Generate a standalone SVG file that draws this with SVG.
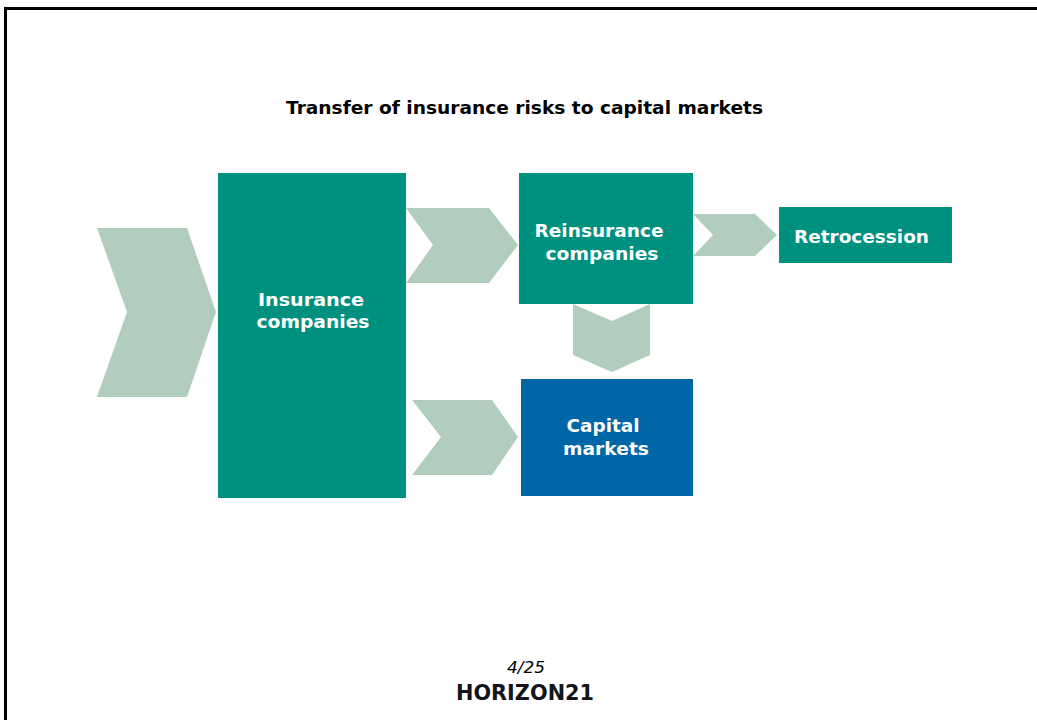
<svg xmlns="http://www.w3.org/2000/svg" width="1037" height="720" viewBox="0 0 1037 720">
<style>
.ch{fill:#b0cdbe}
.t{fill:#009080}
.b{fill:#0066a6}
text{font-family:"DejaVu Sans",Verdana,sans-serif;text-anchor:middle}
.l{fill:#fff;font-size:18px;font-weight:600}
</style>
<rect width="1037" height="720" fill="#fff"/>
<path d="M5.500 720V8.500H1037" fill="none" stroke="#000" stroke-width="3"/>
<text id="title" x="524.500" y="114" font-size="17" font-weight="700" fill="#000" textLength="477" lengthAdjust="spacingAndGlyphs">Transfer of insurance risks to capital markets</text>
<g id="connectors">
<polygon class="ch" points="97,228 187,228 216,312 187,397 97,397 127,312"/>
<polygon class="ch" points="406,208 489,208 518,245 489,283 406,283 433,245"/>
<polygon class="ch" points="412,400 492,400 518,437 492,475 412,475 441,437"/>
<polygon class="ch" points="693,214 755,214 777,235 755,256 693,256 713,235"/>
<polygon class="ch" points="573,304 612,321 650,304 650,355 612,372 573,355"/>
</g>
<g id="insurance"><rect class="t" x="218" y="173" width="188" height="325"/><text class="l" x="311" y="306" textLength="106" lengthAdjust="spacingAndGlyphs">Insurance</text><text class="l" x="313" y="328" textLength="113" lengthAdjust="spacingAndGlyphs">companies</text></g>
<g id="reinsurance"><rect class="t" x="519" y="173" width="174" height="131"/><text class="l" x="599" y="237" textLength="129" lengthAdjust="spacingAndGlyphs">Reinsurance</text><text class="l" x="602" y="260" textLength="113" lengthAdjust="spacingAndGlyphs">companies</text></g>
<g id="retrocession"><rect class="t" x="779" y="207" width="173" height="56"/><text class="l" x="861.500" y="243" textLength="135" lengthAdjust="spacingAndGlyphs">Retrocession</text></g>
<g id="capital"><rect class="b" x="521" y="379" width="172" height="117"/><text class="l" x="603" y="432" textLength="73" lengthAdjust="spacingAndGlyphs">Capital</text><text class="l" x="606" y="455" textLength="86" lengthAdjust="spacingAndGlyphs">markets</text></g>
<text id="page" x="526" y="673" font-size="15" font-style="italic" fill="#000" textLength="38" lengthAdjust="spacingAndGlyphs">4/25</text>
<text id="logo" x="525" y="700" font-size="20.500" font-weight="700" fill="#14141c" textLength="138" lengthAdjust="spacingAndGlyphs">HORIZON21</text>
</svg>
